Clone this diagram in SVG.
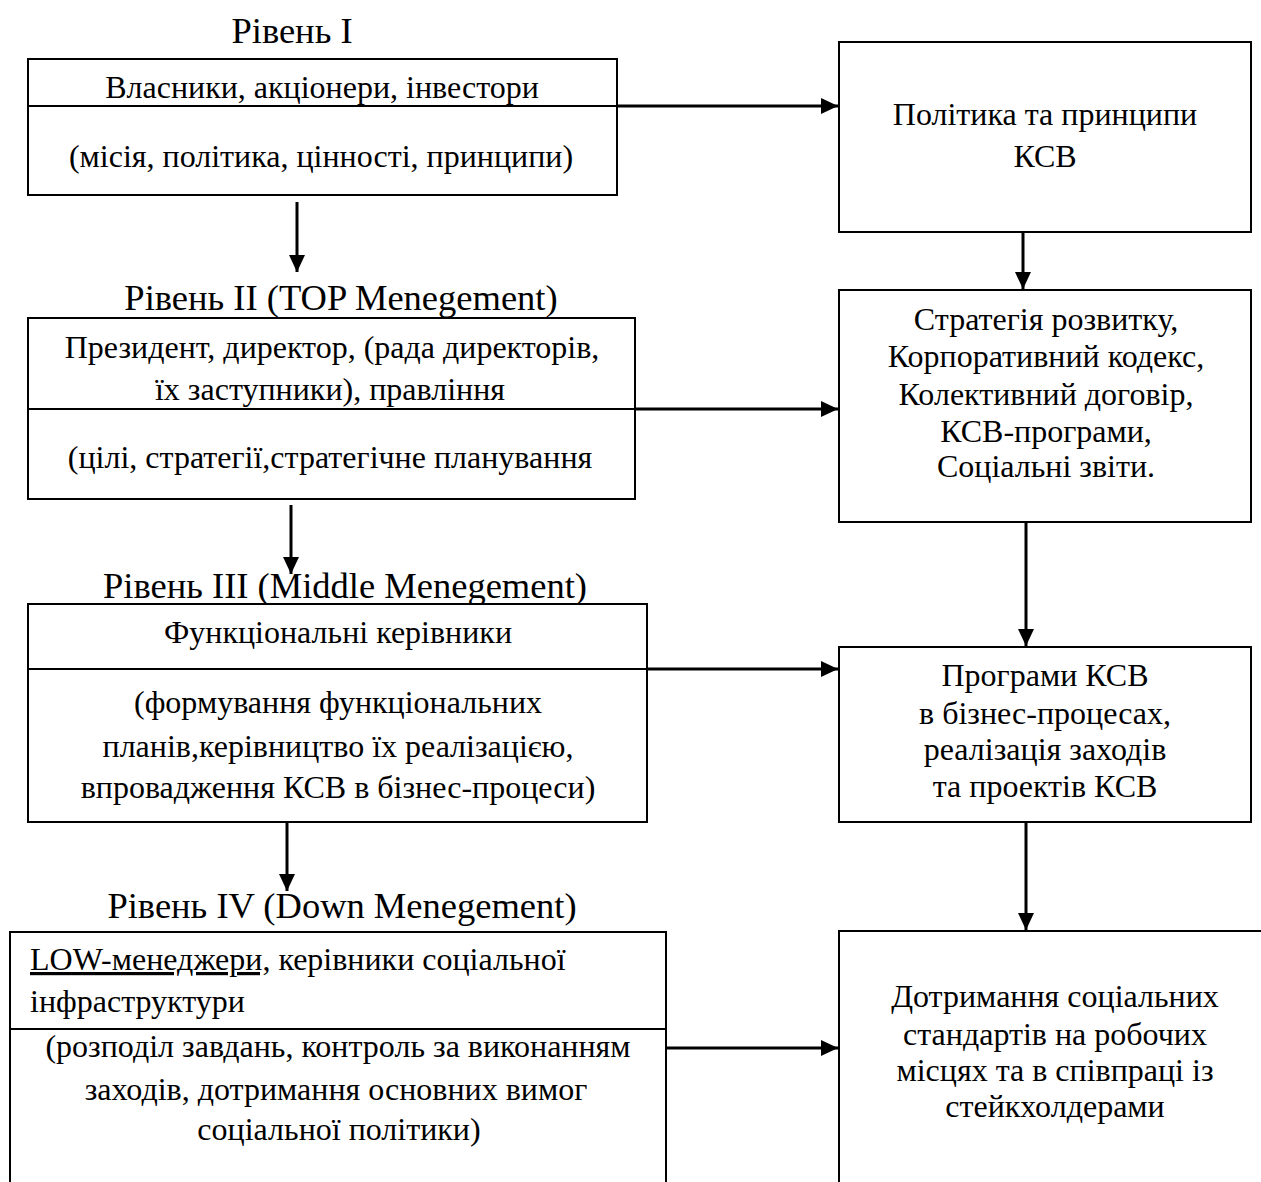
<svg xmlns="http://www.w3.org/2000/svg" width="1261" height="1182" viewBox="0 0 1261 1182">
<style>
.box{fill:#fff;stroke:#000;stroke-width:2}
.div{stroke:#000;stroke-width:2}
.t{font-family:"Liberation Serif","Times New Roman",serif;font-size:32px;fill:#000;text-anchor:middle}
.l{text-anchor:start}
.h{font-size:36.5px}
.c{stroke:#000;stroke-width:3;fill:none;marker-end:url(#ah)}
</style>
<defs>
<marker id="ah" markerUnits="userSpaceOnUse" markerWidth="18" markerHeight="16" refX="17" refY="8" orient="auto">
<path d="M0,0 L17,8 L0,16 z" fill="#000"/>
</marker>
</defs>
<rect width="1261" height="1182" fill="#fff"/>
<g id="connectors">
<line class="c" x1="617" y1="106" x2="838" y2="106"/>
<line class="c" x1="1023" y1="232" x2="1023" y2="289"/>
<line class="c" x1="297" y1="202" x2="297" y2="272"/>
<line class="c" x1="635" y1="409" x2="838" y2="409"/>
<line class="c" x1="291" y1="505" x2="291" y2="574"/>
<line class="c" x1="1026" y1="522" x2="1026" y2="646"/>
<line class="c" x1="637" y1="669" x2="838" y2="669"/>
<line class="c" x1="287" y1="822" x2="287" y2="891"/>
<line class="c" x1="1026" y1="822" x2="1026" y2="930"/>
<line class="c" x1="666" y1="1048" x2="838" y2="1048"/>
</g>
<g id="level1">
<text class="t h" x="292" y="43">Рівень I</text>
<rect class="box" x="28" y="59" width="589" height="136"/>
<line class="div" x1="28" y1="106" x2="617" y2="106"/>
<text class="t" x="322" y="98">Власники, акціонери, інвестори</text>
<text class="t" x="321" y="167">(місія, політика, цінності, принципи)</text>
</g>
<g id="policy">
<rect class="box" x="839" y="42" width="412" height="190"/>
<text class="t" x="1045" y="125">Політика та принципи</text>
<text class="t" x="1045" y="167">КСВ</text>
</g>
<g id="level2">
<text class="t h" x="341" y="310">Рівень II (TOP Menegement)</text>
<rect class="box" x="28" y="318" width="607" height="181"/>
<line class="div" x1="28" y1="409" x2="635" y2="409"/>
<text class="t" x="332" y="358">Президент, директор, (рада директорів,</text>
<text class="t" x="330" y="400">їх заступники), правління</text>
<text class="t" x="330" y="468">(цілі, стратегії,стратегічне планування</text>
</g>
<g id="strategy">
<rect class="box" x="839" y="290" width="412" height="232"/>
<text class="t" x="1046" y="330">Стратегія розвитку,</text>
<text class="t" x="1046" y="367">Корпоративний кодекс,</text>
<text class="t" x="1046" y="405">Колективний договір,</text>
<text class="t" x="1046" y="442">КСВ-програми,</text>
<text class="t" x="1046" y="477">Соціальні звіти.</text>
</g>
<g id="level3">
<text class="t h" x="345" y="598">Рівень III (Middle Menegement)</text>
<rect class="box" x="28" y="604" width="619" height="218"/>
<line class="div" x1="28" y1="669" x2="647" y2="669"/>
<text class="t" x="338" y="643">Функціональні керівники</text>
<text class="t" x="338" y="713">(формування функціональних</text>
<text class="t" x="338" y="757">планів,керівництво їх реалізацією,</text>
<text class="t" x="338" y="798">впровадження КСВ в бізнес-процеси)</text>
</g>
<g id="programs">
<rect class="box" x="839" y="647" width="412" height="175"/>
<text class="t" x="1045" y="686">Програми КСВ</text>
<text class="t" x="1045" y="724">в бізнес-процесах,</text>
<text class="t" x="1045" y="760">реалізація заходів</text>
<text class="t" x="1045" y="797">та проектів КСВ</text>
</g>
<g id="level4">
<text class="t h" x="342" y="918">Рівень IV (Down Menegement)</text>
<rect class="box" x="10" y="932" width="656" height="270"/>
<line class="div" x1="10" y1="1029" x2="666" y2="1029"/>
<text class="t l" x="30" y="970"><tspan text-decoration="underline">LOW-менеджери,</tspan> керівники соціальної</text>
<text class="t l" x="30" y="1012">інфраструктури</text>
<text class="t" x="338" y="1057">(розподіл завдань, контроль за виконанням</text>
<text class="t" x="336" y="1100">заходів, дотримання основних вимог</text>
<text class="t" x="339" y="1140">соціальної політики)</text>
</g>
<g id="standards">
<rect class="box" x="839" y="931" width="440" height="270"/>
<text class="t" x="1055" y="1007">Дотримання соціальних</text>
<text class="t" x="1055" y="1045">стандартів на робочих</text>
<text class="t" x="1055" y="1081">місцях та в співпраці із</text>
<text class="t" x="1055" y="1117">стейкхолдерами</text>
</g>
</svg>
